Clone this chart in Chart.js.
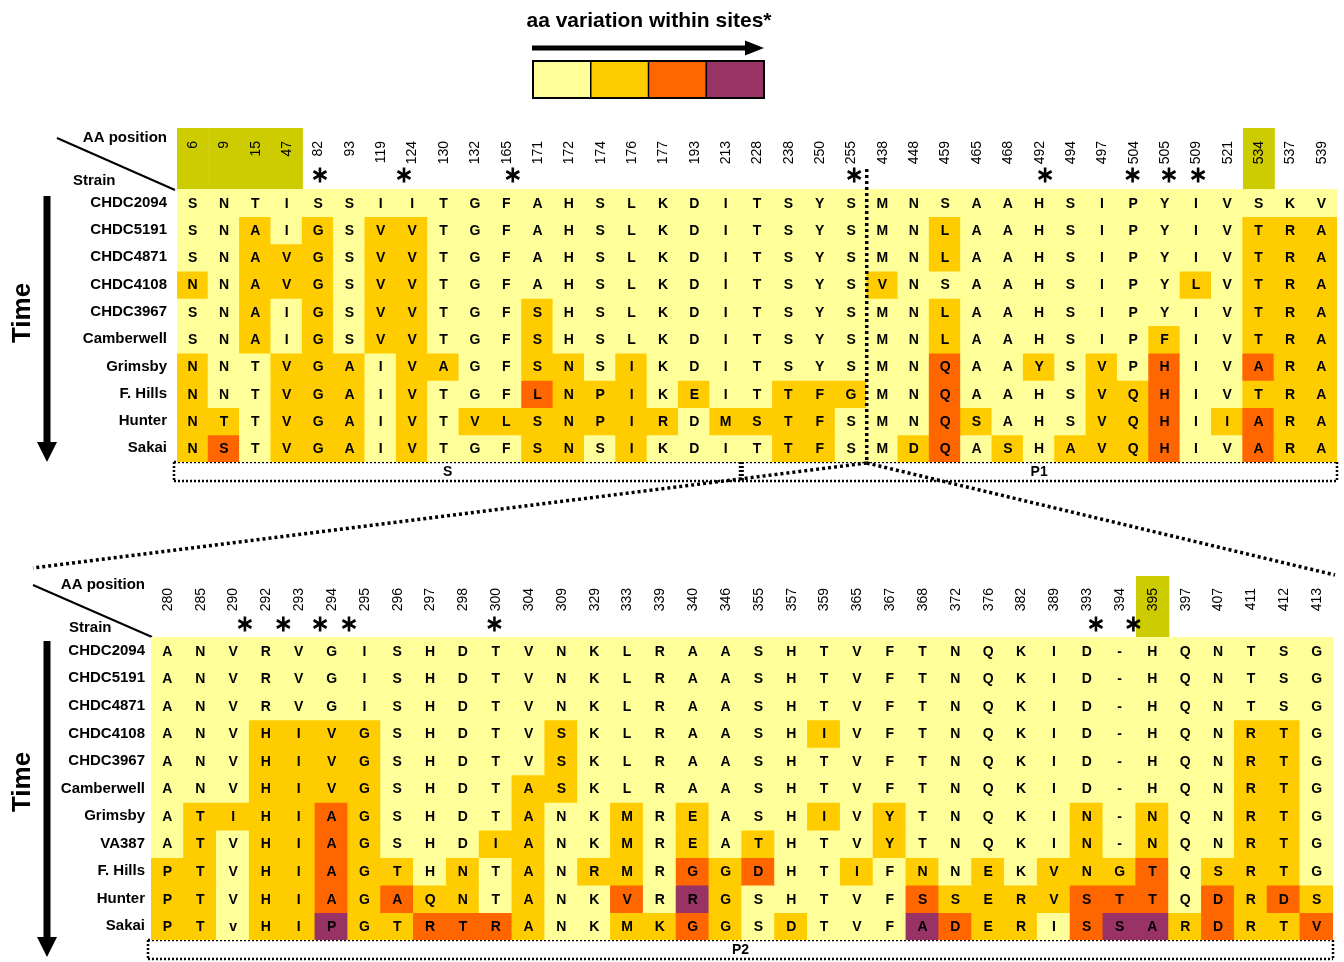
<!DOCTYPE html>
<html>
<head>
<meta charset="utf-8">
<script src="https://cdn.jsdelivr.net/npm/chart.js@4.4.1/dist/chart.umd.min.js"></script>
<style>
  html, body { margin: 0; padding: 0; background: #fff; }
  #wrap { position: relative; width: 1344px; height: 962px; }
  #wrap canvas { position: absolute; left: 0; top: 0; }
</style>
</head>
<body>
<div id="wrap">
  <canvas id="topChart" width="1344" height="962"></canvas>
  <canvas id="bottomChart" width="1344" height="962"></canvas>
</div>
<script>
const FONT = "Arial, 'Liberation Sans', Helvetica, sans-serif";

// colour per variation level (0 = none ... 3 = highest)
const palette = ['#FFFF99', '#FFCC00', '#FF6600', '#993366'];
const legendLevels = [0, 1, 2, 3];

// ---- upper panel: S and P1 domains ----
const topSites = ['6', '9', '15', '47', '82', '93', '119', '124', '130', '132', '165', '171', '172', '174', '176', '177', '193', '213', '228', '238', '250', '255', '438', '448', '459', '465', '468', '492', '494', '497', '504', '505', '509', '521', '534', '537', '539'];
const topStrains = ['CHDC2094', 'CHDC5191', 'CHDC4871', 'CHDC4108', 'CHDC3967', 'Camberwell', 'Grimsby', 'F. Hills', 'Hunter', 'Sakai'];
const topResidues = [
  'SNTISSIIT' + 'GFAHSLKDITSYS' + 'MNSAAHSIPYIVSKV',
  'SNAIGSVVT' + 'GFAHSLKDITSYS' + 'MNLAAHSIPYIVTRA',
  'SNAVGSVVT' + 'GFAHSLKDITSYS' + 'MNLAAHSIPYIVTRA',
  'NNAVGSVVT' + 'GFAHSLKDITSYS' + 'VNSAAHSIPYLVTRA',
  'SNAIGSVVT' + 'GFSHSLKDITSYS' + 'MNLAAHSIPYIVTRA',
  'SNAIGSVVT' + 'GFSHSLKDITSYS' + 'MNLAAHSIPFIVTRA',
  'NNTVGAIVA' + 'GFSNSIKDITSYS' + 'MNQAAYSVPHIVARA',
  'NNTVGAIVT' + 'GFLNPIKEITTFG' + 'MNQAAHSVQHIVTRA',
  'NTTVGAIVT' + 'VLSNPIRDMSTFS' + 'MNQSAHSVQHIIARA',
  'NSTVGAIVT' + 'GFSNSIKDITTFS' + 'MDQASHAVQHIVARA'
];
const topLevels = [
  '000000000' + '0000000000000' + '000000000000000',
  '001010110' + '0000000000000' + '001000000000111',
  '001110110' + '0000000000000' + '001000000000111',
  '101110110' + '0000000000000' + '100000000010111',
  '001010110' + '0010000000000' + '001000000000111',
  '001010110' + '0010000000000' + '001000000100111',
  '100111011' + '0011010000000' + '002001010200211',
  '100111010' + '0021110100111' + '002000011200111',
  '110111010' + '1111111011110' + '002100011201211',
  '120111010' + '0011010000110' + '012010111200211'
];
const topHighlight = ['6', '9', '15', '47', '534'];
// asterisks, in column units
const topStars = [4.06, 6.74, 10.21, 21.1, 27.19, 29.98, 31.14, 32.07];
const topDomains = ['S', 'P1'];
const topDomainStart = ['6', '228'];

// ---- lower panel: P2 domain ----
const bottomSites = ['280', '285', '290', '292', '293', '294', '295', '296', '297', '298', '300', '304', '309', '329', '333', '339', '340', '346', '355', '357', '359', '365', '367', '368', '372', '376', '382', '389', '393', '394', '395', '397', '407', '411', '412', '413'];
const bottomStrains = ['CHDC2094', 'CHDC5191', 'CHDC4871', 'CHDC4108', 'CHDC3967', 'Camberwell', 'Grimsby', 'VA387', 'F. Hills', 'Hunter', 'Sakai'];
const bottomResidues = [
  'ANVRVGISH' + 'DTVNKLRAASHTV' + 'FTNQKID-HQNTSG',
  'ANVRVGISH' + 'DTVNKLRAASHTV' + 'FTNQKID-HQNTSG',
  'ANVRVGISH' + 'DTVNKLRAASHTV' + 'FTNQKID-HQNTSG',
  'ANVHIVGSH' + 'DTVSKLRAASHIV' + 'FTNQKID-HQNRTG',
  'ANVHIVGSH' + 'DTVSKLRAASHTV' + 'FTNQKID-HQNRTG',
  'ANVHIVGSH' + 'DTASKLRAASHTV' + 'FTNQKID-HQNRTG',
  'ATIHIAGSH' + 'DTANKMREASHIV' + 'YTNQKIN-NQNRTG',
  'ATVHIAGSH' + 'DIANKMREATHTV' + 'YTNQKIN-NQNRTG',
  'PTVHIAGTH' + 'NTANRMRGGDHTI' + 'FNNEKVNGTQSRTG',
  'PTVHIAGAQ' + 'NTANKVRRGSHTV' + 'FSSERVSTTQDRDS',
  'PTvHIPGTR' + 'TRANKMKGGSDTV' + 'FADERISSARDRTV'
];
const bottomLevels = [
  '000000000' + '0000000000000' + '00000000000000',
  '000000000' + '0000000000000' + '00000000000000',
  '000000000' + '0000000000000' + '00000000000000',
  '000111100' + '0001000000010' + '00000000000110',
  '000111100' + '0001000000000' + '00000000000110',
  '000111100' + '0011000000000' + '00000000000110',
  '011112100' + '0010010100010' + '10000010100110',
  '010112100' + '0110010101000' + '10000010100110',
  '110112110' + '1010110212001' + '01010111201110',
  '110112121' + '1010020310000' + '02111122202121',
  '110113112' + '2210011210100' + '03211023312112'
];
const bottomHighlight = ['395'];
const bottomStars = [2.36, 3.53, 4.65, 5.53, 9.96, 28.28, 29.42];
const bottomDomains = ['P2'];
const bottomDomainStart = ['280'];

// where the P2 block is cut out of the upper panel
const insertBefore = '438';

function drawStar(ctx, x, y, r) {
  ctx.save();
  ctx.strokeStyle = '#000';
  ctx.lineWidth = 2.6;
  [90, 30, 150].forEach(deg => {
    const a = deg * Math.PI / 180;
    ctx.beginPath();
    ctx.moveTo(x - r * Math.cos(a), y - r * Math.sin(a));
    ctx.lineTo(x + r * Math.cos(a), y + r * Math.sin(a));
    ctx.stroke();
  });
  ctx.restore();
}

function drawDownArrow(ctx, x, y0, tip) {
  ctx.fillStyle = '#000';
  ctx.fillRect(x - 3.5, y0, 7, tip - y0 - 18);
  ctx.beginPath();
  ctx.moveTo(x - 10, tip - 20);
  ctx.lineTo(x + 10, tip - 20);
  ctx.lineTo(x, tip);
  ctx.closePath();
  ctx.fill();
}

function dottedLine(ctx, x0, y0, x1, y1, width, dash) {
  ctx.save();
  ctx.strokeStyle = '#000';
  ctx.lineWidth = width;
  ctx.setLineDash(dash);
  ctx.beginPath();
  ctx.moveTo(x0, y0);
  ctx.lineTo(x1, y1);
  ctx.stroke();
  ctx.restore();
}

function panelPlugin(p) {
  return {
    id: 'panelDecor',
    beforeDatasetsDraw(chart) {
      const { ctx, chartArea: ca } = chart;
      const col = v => chart.scales.x.getPixelForValue(v);
      ctx.save();

      // highlighted header cells
      ctx.fillStyle = '#CCCC00';
      p.highlight.forEach(site => {
        const i = p.sites.indexOf(site);
        const l = col(i - 0.5), r = col(i + 0.5);
        ctx.fillRect(l, p.headTop, r - l + 0.5, ca.top - p.headTop);
      });

      // AA position numbers
      ctx.fillStyle = '#000';
      ctx.font = `14px ${FONT}`;
      ctx.textAlign = 'right';
      ctx.textBaseline = 'middle';
      p.sites.forEach((s, i) => {
        ctx.save();
        ctx.translate(col(i) + 0.5, p.numTop);
        ctx.rotate(-Math.PI / 2);
        ctx.fillText(s, 0, 0);
        ctx.restore();
      });

      p.stars.forEach(v => drawStar(ctx, col(v), p.starY, 7.5));

      // corner labels
      ctx.font = `bold 15px ${FONT}`;
      ctx.textAlign = 'right';
      ctx.fillText('AA position', p.aaRight, p.aaY);
      ctx.textAlign = 'left';
      ctx.fillText('Strain', p.strainLeft, p.strainY);
      ctx.strokeStyle = '#000';
      ctx.lineWidth = 2;
      ctx.beginPath();
      ctx.moveTo(p.diag[0], p.diag[1]);
      ctx.lineTo(p.diag[2], p.diag[3]);
      ctx.stroke();

      // Time arrow
      ctx.save();
      ctx.translate(23, p.timeY);
      ctx.rotate(-Math.PI / 2);
      ctx.font = `bold 26px ${FONT}`;
      ctx.textAlign = 'center';
      ctx.fillText('Time', 0, 0);
      ctx.restore();
      drawDownArrow(ctx, 47, p.arrowTop, p.arrowTip);

      // domain boxes
      const y0 = ca.bottom, y1 = ca.bottom + 19;
      const left = ca.left - 3, right = ca.right;
      const edges = p.domainStart.map((s, k) => k === 0 ? left : col(p.sites.indexOf(s) - 0.5));
      edges.push(right);
      dottedLine(ctx, left, y0, right, y0, 2.5, [2, 2]);
      dottedLine(ctx, left, y1, right, y1, 2.5, [2, 2]);
      dottedLine(ctx, left, y0, left, y1, 2.5, [2, 2]);
      dottedLine(ctx, right, y0, right, y1, 2.5, [2, 2]);
      for (let k = 1; k < edges.length - 1; k++) {
        dottedLine(ctx, edges[k], y0, edges[k], y1, 5, [2, 2]);
      }
      ctx.fillStyle = '#000';
      ctx.font = `bold 14px ${FONT}`;
      ctx.textAlign = 'center';
      ctx.textBaseline = 'middle';
      p.domains.forEach((d, k) => {
        ctx.fillText(d, (edges[k] + edges[k + 1]) / 2 - (k === 0 && p.domains.length > 1 ? 10 : 0), (y0 + y1) / 2 + 1);
      });

      ctx.restore();
    },
    afterDatasetsDraw(chart) {
      const ctx = chart.ctx;
      ctx.save();
      ctx.fillStyle = '#000';
      ctx.font = `bold 14px ${FONT}`;
      ctx.textAlign = 'center';
      ctx.textBaseline = 'middle';
      chart.data.datasets.forEach((ds, r) => {
        chart.getDatasetMeta(r).data.forEach((bar, c) => {
          ctx.fillText(p.residues[r][c], bar.x, (bar.y + bar.base) / 2 + 1);
        });
      });
      ctx.restore();
    }
  };
}

function panelChart(id, p, extraPlugins) {
  return new Chart(document.getElementById(id), {
    type: 'bar',
    data: {
      labels: p.sites,
      datasets: p.strains.map((name, r) => ({
        label: name,
        data: p.sites.map(() => 1),
        backgroundColor: p.levels[r].split('').map(l => palette[+l]),
        borderWidth: 0,
        inflateAmount: 0.6,
        categoryPercentage: 1,
        barPercentage: 1
      }))
    },
    options: {
      responsive: false,
      animation: false,
      events: [],
      layout: { padding: { left: 0, top: p.top, right: 1344 - p.right, bottom: 962 - p.bottom } },
      plugins: { legend: { display: false }, tooltip: { enabled: false } },
      scales: {
        x: { stacked: true, display: false, offset: true },
        y: {
          stacked: true,
          reverse: true,
          min: 0,
          max: p.strains.length,
          grid: { display: false, drawTicks: false },
          border: { display: false },
          afterFit: axis => { axis.width = p.left; },
          afterBuildTicks: axis => { axis.ticks = p.strains.map((s, i) => ({ value: i + 0.5 })); },
          ticks: {
            autoSkip: false,
            padding: p.left - p.labelRight,
            color: '#000',
            font: { family: FONT, size: 15, weight: 'bold' },
            callback: v => p.strains[Math.floor(v)]
          }
        }
      }
    },
    plugins: [panelPlugin(p)].concat(extraPlugins || [])
  });
}

const legendPlugin = {
  id: 'variationScale',
  afterDraw(chart) {
    const ctx = chart.ctx;
    ctx.save();
    ctx.fillStyle = '#000';
    ctx.font = `bold 21px ${FONT}`;
    ctx.textAlign = 'center';
    ctx.textBaseline = 'alphabetic';
    ctx.fillText('aa variation within sites*', 649, 27);
    ctx.fillRect(532, 45.5, 216, 5);
    ctx.beginPath();
    ctx.moveTo(745, 40.5);
    ctx.lineTo(764, 48);
    ctx.lineTo(745, 55.5);
    ctx.closePath();
    ctx.fill();
    const bx = 533, by = 61, bw = 231, bh = 37, w = bw / legendLevels.length;
    legendLevels.forEach((lv, i) => {
      ctx.fillStyle = palette[lv];
      ctx.fillRect(bx + i * w, by, w, bh);
    });
    ctx.strokeStyle = '#000';
    ctx.lineWidth = 2;
    ctx.strokeRect(bx, by, bw, bh);
    ctx.lineWidth = 1.5;
    for (let i = 1; i < legendLevels.length; i++) {
      ctx.beginPath();
      ctx.moveTo(bx + i * w, by);
      ctx.lineTo(bx + i * w, by + bh);
      ctx.stroke();
    }
    ctx.restore();
  }
};

const cutPlugin = {
  id: 'cutLine',
  afterDraw(chart) {
    const x = chart.scales.x.getPixelForValue(topSites.indexOf(insertBefore) - 0.5);
    dottedLine(chart.ctx, x, 169, x, chart.chartArea.bottom, 3.5, [3, 3]);
  }
};

const topChart = panelChart('topChart', {
  sites: topSites, strains: topStrains, residues: topResidues, levels: topLevels,
  highlight: topHighlight, stars: topStars, domains: topDomains, domainStart: topDomainStart,
  left: 177, right: 1337, top: 189, bottom: 462, labelRight: 167,
  headTop: 128, numTop: 141, starY: 175,
  aaRight: 167, aaY: 138, strainLeft: 73, strainY: 181, diag: [57, 138, 175, 190],
  timeY: 313, arrowTop: 196, arrowTip: 462
}, [legendPlugin, cutPlugin]);

const zoomLines = {
  id: 'zoomLines',
  afterDraw(chart) {
    const x = topChart.scales.x.getPixelForValue(topSites.indexOf(insertBefore) - 0.5);
    const y = topChart.chartArea.bottom + 1;
    dottedLine(chart.ctx, x, y, 33, 568, 3.5, [3, 3]);
    dottedLine(chart.ctx, x, y, chart.chartArea.right + 2, 575, 3.5, [3, 3]);
  }
};

panelChart('bottomChart', {
  sites: bottomSites, strains: bottomStrains, residues: bottomResidues, levels: bottomLevels,
  highlight: bottomHighlight, stars: bottomStars, domains: bottomDomains, domainStart: bottomDomainStart,
  left: 151, right: 1333, top: 637, bottom: 940, labelRight: 145,
  headTop: 576, numTop: 588, starY: 624,
  aaRight: 145, aaY: 585, strainLeft: 69, strainY: 628, diag: [33, 585, 152, 637],
  timeY: 782, arrowTop: 641, arrowTip: 957
}, [zoomLines]);
</script>
</body>
</html>
